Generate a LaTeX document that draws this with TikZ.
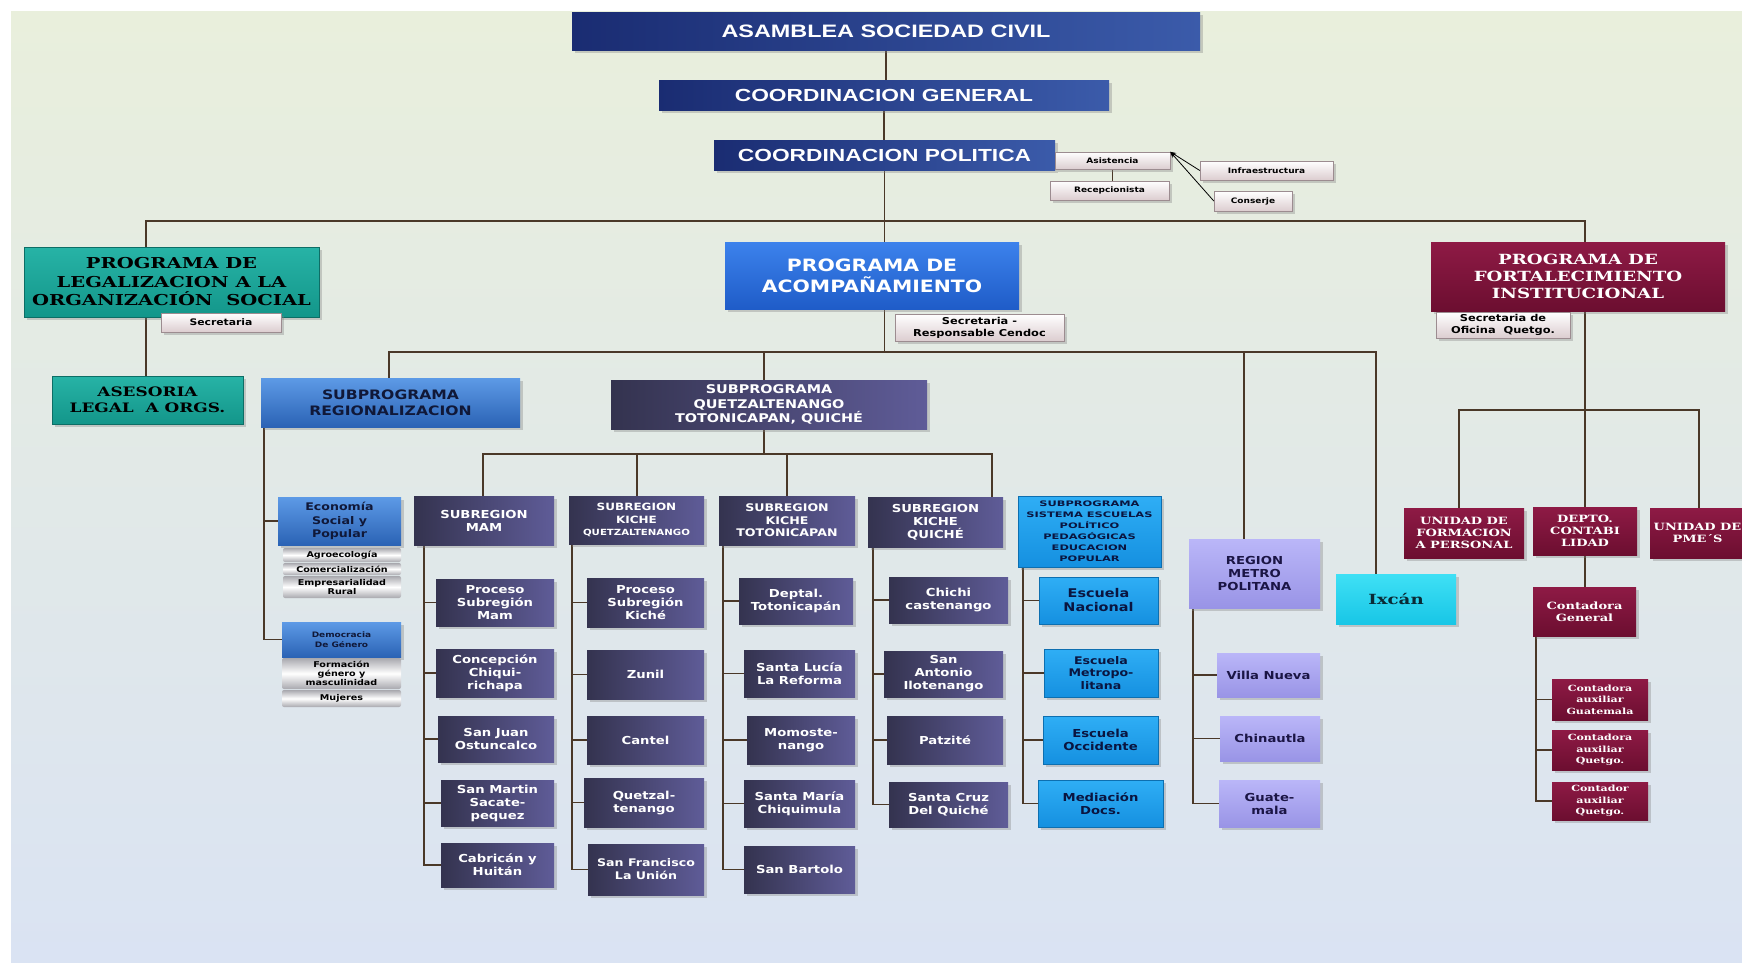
\documentclass[tikz,border=0pt]{standalone}
\usepackage{fontspec}
\setmainfont{DejaVu Sans}
\newfontfamily\arl[FakeStretch=1.3]{Liberation Sans}
\newfontfamily\sw[FakeStretch=1.2]{DejaVu Sans}
\newfontfamily\swx[FakeStretch=1.5]{DejaVu Sans}
\newfontfamily\sx[FakeStretch=1.3]{DejaVu Serif}
\usetikzlibrary{shadows,arrows.meta}
\pgfdeclarelayer{back}\pgfdeclarelayer{lines}
\pgfsetlayers{back,lines,main}
\definecolor{navyA}{HTML}{1A2C72}\definecolor{navyB}{HTML}{3B5BAA}
\definecolor{tealA}{HTML}{27B3A6}\definecolor{tealB}{HTML}{13968A}\definecolor{tealD}{HTML}{0D6E66}
\definecolor{acA}{HTML}{3C82EC}\definecolor{acB}{HTML}{1F5CC8}
\definecolor{rgA}{HTML}{5D9AE6}\definecolor{rgB}{HTML}{2B63B5}\definecolor{rgT}{HTML}{101838}
\definecolor{puA}{HTML}{34334F}\definecolor{puB}{HTML}{5F5C98}
\definecolor{esA}{HTML}{2FAEF5}\definecolor{esB}{HTML}{1590E0}\definecolor{esD}{HTML}{0D6FB0}\definecolor{esT}{HTML}{0A1540}
\definecolor{meA}{HTML}{BAB6F8}\definecolor{meB}{HTML}{9994E6}\definecolor{meT}{HTML}{1B1545}
\definecolor{ixA}{HTML}{3FE0F5}\definecolor{ixB}{HTML}{18C6E6}\definecolor{ixT}{HTML}{0A2A35}
\definecolor{maA}{HTML}{8E1A45}\definecolor{maB}{HTML}{6C0E30}
\definecolor{pkB}{HTML}{DCCDD0}\definecolor{pkD}{HTML}{9C8C90}
\definecolor{grA}{HTML}{A8A8AE}
\definecolor{lnC}{HTML}{4A3828}
\definecolor{bgA}{HTML}{E9EFDC}\definecolor{bgB}{HTML}{DAE3F3}
\newcommand\fz[2]{\fontsize{#1}{#2}\selectfont}
\newcommand\obox[7]{\node[#2, minimum width={(#5-#3)*1pt}, minimum height={(#6-#4)*1pt}] (#1) at ({(#3+#5)/2},{(#4+#6)/2}) {#7};}
\tikzset{
  bx/.style={inner sep=1pt, align=center, drop shadow={opacity=.35,shadow xshift=2.5pt,shadow yshift=-2.5pt}},
  navy/.style={bx, left color=navyA, right color=navyB, text=white, font=\arl\bfseries\fz{18}{21}},
  teal/.style={bx, top color=tealA, bottom color=tealB, draw=tealD, text=black, font=\sx\bfseries},
  acomp/.style={bx, top color=acA, bottom color=acB, text=white, font=\sw\bfseries},
  regb/.style={bx, top color=rgA, bottom color=rgB, text=rgT, font=\sw\bfseries},
  purp/.style={bx, left color=puA, right color=puB, text=white, font=\sw\bfseries\fz{11}{13}},
  esc/.style={bx, top color=esA, bottom color=esB, draw=esD, text=esT, font=\sw\bfseries\fz{12}{14}},
  metro/.style={bx, top color=meA, bottom color=meB, text=meT, font=\sw\bfseries\fz{11}{13}},
  ixc/.style={bx, top color=ixA, bottom color=ixB, text=ixT, font=\sx\bfseries\fz{14}{16}},
  mar/.style={bx, top color=maA, bottom color=maB, text=white, font=\sx\bfseries\fz{10}{12}},
  pink/.style={bx, top color=white, bottom color=pkB, draw=pkD, text=black, font=\sw\bfseries\fz{7.5}{9}},
  grayb/.style={inner sep=0pt, align=center, top color=grA, bottom color=grA, middle color=white, text=black, font=\sw\bfseries\fz{8}{9}, rounded corners=2pt},
  ln/.style={draw=lnC, line width=1.6pt},
  arr/.style={draw=black, line width=0.8pt, -{Stealth[length=6pt]}}
}
\begin{document}
\begin{tikzpicture}[x=1pt,y=-1pt]
\useasboundingbox (0,0) rectangle (1742,967);
\begin{pgfonlayer}{back}
\fill[white] (0,0) rectangle (1742,967);
\shade[top color=bgA, bottom color=bgB] (11,11) rectangle (1742,962);
\end{pgfonlayer}
% top
\obox{asam}{navy}{572}{12}{1200}{50}{ASAMBLEA SOCIEDAD CIVIL}
\obox{cgen}{navy,font=\arl\bfseries\fz{17.5}{20}}{659}{80}{1109}{110}{COORDINACION GENERAL}
\obox{cpol}{navy,font=\arl\bfseries\fz{17.5}{20}}{714}{140}{1055}{170}{COORDINACION POLITICA}
\obox{asis}{pink}{1055}{152}{1170}{169}{Asistencia}
\obox{recep}{pink}{1050}{181}{1169}{200}{Recepcionista}
\obox{infra}{pink}{1200}{161}{1333}{180}{Infraestructura}
\obox{cons}{pink}{1214}{191}{1292}{211}{Conserje}
% programs
\obox{legal}{teal,font=\sx\bfseries\fz{15}{18.5}}{24}{247}{319}{317}{PROGRAMA DE\\LEGALIZACION A LA\\ORGANIZACIÓN~~SOCIAL}
\obox{sec1}{pink,font=\sw\bfseries\fz{9}{11}}{161}{313}{281}{332}{Secretaria}
\obox{ases}{teal,font=\sx\bfseries\fz{13}{16}}{52}{376}{243}{424}{ASESORIA\\LEGAL~~A ORGS.}
\obox{acomp}{acomp,font=\sw\bfseries\fz{17}{21}}{725}{242}{1019}{309}{PROGRAMA DE\\ACOMPAÑAMIENTO}
\obox{sec2}{pink,font=\sw\bfseries\fz{9.5}{12}}{895}{314}{1064}{341}{Secretaria -\\Responsable Cendoc}
\obox{fort}{mar,font=\sx\bfseries\fz{14}{17}}{1431}{242}{1725}{311}{PROGRAMA DE\\FORTALECIMIENTO\\INSTITUCIONAL}
\obox{sec3}{pink,font=\sw\bfseries\fz{9.5}{12}}{1436}{312}{1570}{338}{Secretaria de\\Oficina~~Quetgo.}
\obox{reg}{regb,font=\sw\bfseries\fz{13}{16}}{261}{378}{520}{427}{SUBPROGRAMA\\REGIONALIZACION}
\obox{qtz}{purp,font=\sw\bfseries\fz{12}{14.5}}{611}{380}{927}{429}{SUBPROGRAMA\\QUETZALTENANGO\\TOTONICAPAN, QUICHÉ}
% regionalizacion
\obox{eco}{regb,font=\sw\bfseries\fz{10.5}{13.5}}{278}{497}{401}{545}{Economía\\Social y\\Popular}
\obox{ecoa}{grayb}{283}{548}{401}{562}{Agroecología}
\obox{ecob}{grayb}{283}{563}{401}{575}{Comercialización}
\obox{ecoc}{grayb}{283}{576}{401}{598}{Empresarialidad\\Rural}
\obox{dem}{regb,font=\sw\bfseries\fz{7.5}{9.5}}{282}{622}{401}{657}{Democracia\\De Género}
\obox{dema}{grayb}{282}{658}{401}{689}{Formación\\género y\\masculinidad}
\obox{demb}{grayb}{282}{690}{401}{707}{Mujeres}
% subregions
\obox{s1}{purp}{414}{496}{554}{545}{SUBREGION\\MAM}
\obox{s2}{purp,font=\sw\bfseries\fz{10}{12.5}}{569}{496}{704}{544}{SUBREGION\\KICHE\\{\fz{8.5}{12.5}QUETZALTENANGO}}
\obox{s3}{purp,font=\sw\bfseries\fz{10.5}{12.5}}{719}{496}{855}{545}{SUBREGION\\KICHE\\TOTONICAPAN}
\obox{s4}{purp,font=\sw\bfseries\fz{11}{13}}{868}{497}{1003}{547}{SUBREGION\\KICHE\\QUICHÉ}
\obox{s5}{esc,font=\swx\bfseries\fz{7.6}{11}}{1018}{496}{1161}{567}{SUBPROGRAMA\\SISTEMA ESCUELAS\\POLÍTICO\\PEDAGÓGICAS\\EDUCACION\\POPULAR}
\obox{s6}{metro}{1189}{539}{1320}{608}{REGION\\METRO\\POLITANA}
% MAM
\obox{m1}{purp}{436}{579}{554}{626}{Proceso\\Subregión\\Mam}
\obox{m2}{purp}{436}{649}{554}{697}{Concepción\\Chiqui-\\richapa}
\obox{m3}{purp}{438}{716}{554}{762}{San Juan\\Ostuncalco}
\obox{m4}{purp}{441}{780}{554}{826}{San Martin\\Sacate-\\pequez}
\obox{m5}{purp}{441}{843}{554}{887}{Cabricán y\\Huitán}
% Kiche Quetzaltenango
\obox{k1}{purp}{587}{578}{704}{627}{Proceso\\Subregión\\Kiché}
\obox{k2}{purp}{587}{650}{704}{699}{Zunil}
\obox{k3}{purp}{587}{716}{704}{764}{Cantel}
\obox{k4}{purp}{584}{778}{704}{827}{Quetzal-\\tenango}
\obox{k5}{purp,font=\sw\bfseries\fz{10.5}{13}}{588}{844}{704}{895}{San Francisco\\La Unión}
% Totonicapan
\obox{t1}{purp}{739}{578}{853}{624}{Deptal.\\Totonicapán}
\obox{t2}{purp}{744}{650}{855}{697}{Santa Lucía\\La Reforma}
\obox{t3}{purp}{747}{716}{855}{764}{Momoste-\\nango}
\obox{t4}{purp}{744}{780}{855}{827}{Santa María\\Chiquimula}
\obox{t5}{purp}{744}{846}{855}{893}{San Bartolo}
% Quiche
\obox{q1}{purp}{889}{577}{1008}{623}{Chichi\\castenango}
\obox{q2}{purp}{884}{651}{1003}{697}{San\\Antonio\\Ilotenango}
\obox{q3}{purp}{887}{716}{1003}{764}{Patzité}
\obox{q4}{purp}{889}{782}{1008}{827}{Santa Cruz\\Del Quiché}
% Escuelas
\obox{e1}{esc}{1039}{577}{1158}{624}{Escuela\\Nacional}
\obox{e2}{esc,font=\sw\bfseries\fz{10.5}{12.5}}{1044}{649}{1158}{697}{Escuela\\Metropo-\\litana}
\obox{e3}{esc,font=\sw\bfseries\fz{11}{13}}{1043}{716}{1158}{764}{Escuela\\Occidente}
\obox{e4}{esc,font=\sw\bfseries\fz{11}{13}}{1038}{780}{1163}{827}{Mediación\\Docs.}
% Metro
\obox{r1}{metro}{1217}{653}{1320}{697}{Villa Nueva}
\obox{r2}{metro}{1220}{716}{1320}{761}{Chinautla}
\obox{r3}{metro}{1219}{780}{1320}{827}{Guate-\\mala}
\obox{ixcan}{ixc}{1336}{574}{1456}{624}{Ixcán}
% Fortalecimiento
\obox{uf}{mar}{1404}{508}{1524}{558}{UNIDAD DE\\FORMACION\\A PERSONAL}
\obox{dc}{mar}{1533}{507}{1637}{555}{DEPTO.\\CONTABI\\LIDAD}
\obox{pme}{mar}{1650}{508}{1745}{558}{UNIDAD DE\\PME´S}
\obox{cg}{mar}{1533}{587}{1636}{636}{Contadora\\General}
\obox{ca1}{mar,font=\sx\bfseries\fz{8.5}{11.5}}{1552}{679}{1648}{720}{Contadora\\auxiliar\\Guatemala}
\obox{ca2}{mar,font=\sx\bfseries\fz{8.5}{11.5}}{1552}{730}{1648}{770}{Contadora\\auxiliar\\Quetgo.}
\obox{ca3}{mar,font=\sx\bfseries\fz{8.5}{11.5}}{1552}{782}{1648}{820}{Contador\\auxiliar\\Quetgo.}
% connectors
\begin{pgfonlayer}{lines}
\draw[ln] (asam.south) -- (asam.south |- cgen.north);
\draw[ln] (cgen.south) -- (cgen.south |- cpol.north);
\draw[ln] (cpol.south) -- (cpol.south |- acomp.north);
\coordinate (hA) at (146,221); \coordinate (hB) at (1585,221);
\draw[ln] (hA |- legal.north) -- (hA) -- (hB) -- (hB |- fort.north);
\draw[ln] (hA |- legal.south) -- (hA |- ases.north);
\coordinate (h2L) at (389,352); \coordinate (h2R) at (1376,352);
\coordinate (h2q) at (764,352); \coordinate (h2m) at (1244,352);
\draw[ln] (cpol.south |- acomp.south) -- (cpol.south |- h2L);
\draw[ln] (h2L |- reg.north) -- (h2L) -- (h2R) -- (h2R |- ixcan.north);
\draw[ln] (h2q) -- (h2q |- qtz.north);
\draw[ln] (h2m) -- (h2m |- s6.north);
\coordinate (h3L) at (483,454); \coordinate (h3R) at (992,454);
\coordinate (h3b) at (637,454); \coordinate (h3c) at (787,454);
\draw[ln] (h2q |- qtz.south) -- (h2q |- h3L);
\draw[ln] (h3L |- s1.north) -- (h3L) -- (h3R) -- (h3R |- s4.north);
\draw[ln] (h3b) -- (h3b |- s2.north);
\draw[ln] (h3c) -- (h3c |- s3.north);
\coordinate (bR) at (264,427);
\draw[ln] (bR) |- (eco.west); \draw[ln] (bR) |- (dem.west);
\coordinate (bM) at (424,545);
\foreach \c in {m1,m2,m3,m4,m5} \draw[ln] (bM) |- (\c.west);
\coordinate (bK) at (572,544);
\foreach \c in {k1,k2,k3,k4,k5} \draw[ln] (bK) |- (\c.west);
\coordinate (bT) at (723,545);
\foreach \c in {t1,t2,t3,t4,t5} \draw[ln] (bT) |- (\c.west);
\coordinate (bQ) at (873,547);
\foreach \c in {q1,q2,q3,q4} \draw[ln] (bQ) |- (\c.west);
\coordinate (bE) at (1023,567);
\foreach \c in {e1,e2,e3,e4} \draw[ln] (bE) |- (\c.west);
\coordinate (bX) at (1193,608);
\foreach \c in {r1,r2,r3} \draw[ln] (bX) |- (\c.west);
\coordinate (h4L) at (1459,410); \coordinate (h4R) at (1699,410); \coordinate (h4M) at (1585,410);
\draw[ln] (hB |- fort.south) -- (h4M);
\draw[ln] (h4L |- uf.north) -- (h4L) -- (h4R) -- (h4R |- pme.north);
\draw[ln] (h4M) -- (h4M |- dc.north);
\draw[ln] (h4M |- dc.south) -- (h4M |- cg.north);
\coordinate (bC) at (1536,636);
\foreach \c in {ca1,ca2,ca3} \draw[ln] (bC) |- (\c.west);
\draw[ln,line width=1.2pt] (asis.south) -- (asis.south |- recep.north);
\end{pgfonlayer}
\draw[arr] (infra.west) -- (asis.north east);
\draw[arr] (cons.west) -- (asis.north east);
\end{tikzpicture}
\end{document}
